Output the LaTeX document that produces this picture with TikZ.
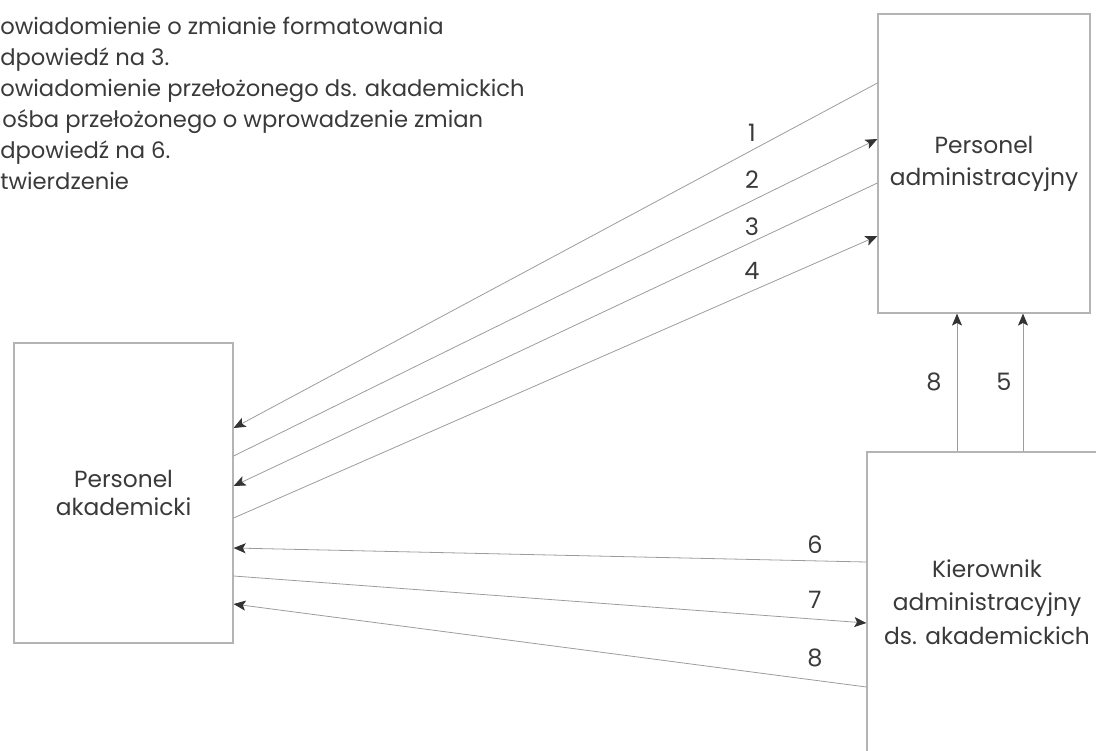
\documentclass[tikz,border=0pt]{standalone}
\usepackage{fontspec}
\setmainfont{Poppins}
\usetikzlibrary{arrows.meta,calc}
\definecolor{txt}{HTML}{3A3A3A}
\definecolor{ln}{HTML}{9C9C9C}
\definecolor{bx}{HTML}{B4B4B4}
\definecolor{tip}{HTML}{333333}
\tikzset{
  box/.style={draw=bx, line width=0.9pt, inner sep=0pt, align=center, text=txt,
    font=\fontsize{17.5}{24}\selectfont},
  flow/.style={draw=ln, line width=0.6pt, -{Stealth[length=9pt,width=7.5pt,inset=2pt,color=tip]}},
  lab/.style={text=txt, inner sep=0pt, font=\fontsize{18}{20}\selectfont},
  leg/.style={text=txt, inner sep=0pt, anchor=base west, font=\fontsize{17}{20}\selectfont},
}
\begin{document}
\begin{tikzpicture}[x=0.75pt,y=-0.75pt]
\useasboundingbox (0,0) rectangle (1096,750);
% legend
\node[leg] (leg1) at (0,34) {owiadomienie o zmianie formatowania};
\node[leg] (leg2) at (0,65) {dpowiedź na 3.};
\node[leg] (leg3) at (0,96) {owiadomienie przełożonego ds. akademickich};
\node[leg] (leg4) at (2,127) {ośba przełożonego o wprowadzenie zmian};
\node[leg] (leg5) at (0,158) {dpowiedź na 6.};
\node[leg] (leg6) at (0,189) {twierdzenie};
% boxes
\node[box, minimum width=212*0.75pt, minimum height=299*0.75pt] (adm) at (984,163.5) {Personel\\administracyjny};
\node[box, minimum width=219*0.75pt, minimum height=300*0.75pt, font=\fontsize{17.5}{21}\selectfont] (aka) at (123.5,493) {Personel\\akademicki};
\begin{scope}
\clip (0,0) rectangle (1096,750);
\node[box, minimum width=240*0.75pt, minimum height=300*0.75pt, font=\fontsize{17.5}{25}\selectfont] (kie) at (987,602) {Kierownik\\administracyjny\\ds. akademickich};
\end{scope}
% flows between adm and aka
\draw[flow] ($(adm.west)+(0,-80.5)$) -- ($(aka.east)+(0,-65)$);
\draw[flow] ($(aka.east)+(0,-37)$) -- ($(adm.west)+(0,-24.5)$);
\draw[flow] ($(adm.west)+(0,19.5)$) -- ($(aka.east)+(0,-7)$);
\draw[flow] ($(aka.east)+(0,25)$) -- ($(adm.west)+(0,72.5)$);
% flows between kie and aka
\draw[flow] ($(kie.west)+(0,-40)$) -- ($(aka.east)+(0,55)$);
\draw[flow] ($(aka.east)+(0,83)$) -- ($(kie.west)+(0,21)$);
\draw[flow] ($(kie.west)+(0,85)$) -- ($(aka.east)+(0,111)$);
% vertical flows
\draw[flow] ($(kie.north)+(-30,0)$) coordinate (v8) -- (v8 |- adm.south);
\draw[flow] ($(kie.north)+(36,0)$) coordinate (v5) -- (v5 |- adm.south);
% labels
\node[lab] (n1) at (752,133) {1};
\node[lab] (n2) at (752,180) {2};
\node[lab] (n3) at (752,227) {3};
\node[lab] (n4) at (752,271) {4};
\node[lab] (n6) at (815,545) {6};
\node[lab] (n7) at (815,600) {7};
\node[lab] (n8a) at (815,658) {8};
\node[lab] (n8b) at (934,382) {8};
\node[lab] (n5) at (1004,382) {5};
\end{tikzpicture}
\end{document}
